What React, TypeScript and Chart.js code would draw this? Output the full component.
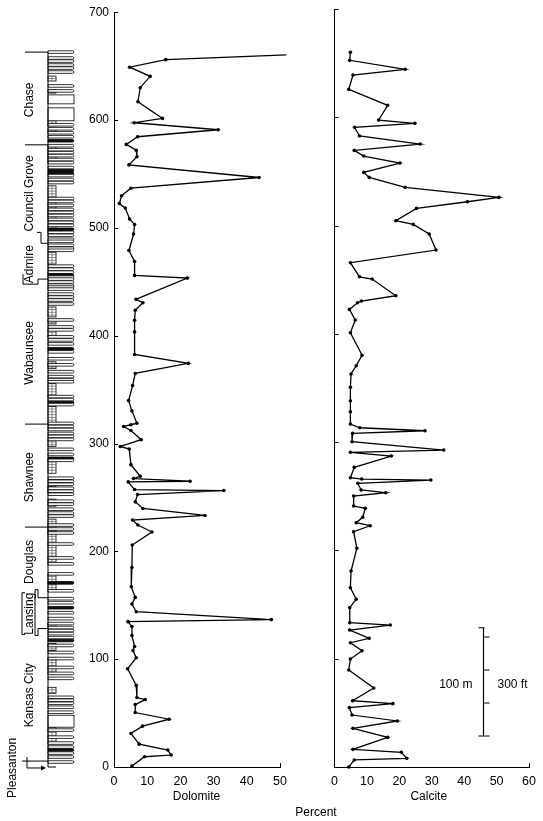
import { useEffect, useRef } from "react";
import { Chart, registerables } from "chart.js";

Chart.register(...registerables);

const FONT = '"Liberation Sans", Arial, sans-serif';

// ---- axes ----
const depthTicks = [0, 100, 200, 300, 400, 500, 600, 700];
const dolomiteMax = 50;
const calciteMax = 60;

// ---- Dolomite profile (depth m, percent) ----
const dolomiteDepth = [
  660.5, 656, 649, 640.5, 630, 617, 601.5, 597.5, 591, 584.5, 577.4, 572, 566, 558.4, 546.7, 536.8,
  529.8, 522.6, 518.3, 508.2, 503, 494.3, 479, 468.8, 455.9, 453.4, 433.7, 430.6, 423.5, 414.3,
  403.5, 382.6, 374.3, 365, 353.7, 339.8, 330.3, 318.8, 317.4, 315.8, 312.1, 303.5, 297.3, 294.8,
  280.4, 269.6, 267.5, 265, 264.4, 257.3, 256.4, 252.7, 245.9, 239.8, 233.3, 229, 224.4, 217.9,
  205.9, 185, 167.1, 157.3, 151.1, 144, 136.7, 134.8, 130.2, 121.9, 111.7, 108, 101.3, 91.1,
  75.7, 64.4, 62.5, 57.9, 50.5, 44.3, 37.9, 31.1, 21.2, 15.7, 11.1, 9.5, 0.9,
];
const dolomitePct = [
  51.9, 15.6, 4.7, 10.9, 7.9, 7.2, 14.6, 6.1, 31.4, 7.1, 3.7, 6.7, 6.9, 4.5, 43.7, 5.1,
  2.3, 1.6, 3.4, 4.7, 6.2, 5.9, 4.5, 6.2, 6.2, 22.1, 6.6, 8.7, 6.4, 6.2,
  6.2, 6.2, 22.4, 6.4, 5.6, 4.4, 5.4, 6.9, 5.1, 2.9, 5.1, 8.2, 1.9, 4.6,
  5.1, 7.9, 5.9, 22.9, 4.3, 6.2, 33.1, 7.1, 6.4, 8.7, 27.4, 5.6, 7.2, 11.4,
  5.5, 5.4, 5.2, 6.4, 5.4, 6.7, 47.4, 4.2, 5.4, 5.4, 6.2, 5.7, 6.7, 4.1,
  6.7, 6.9, 9.4, 6.4, 6.4, 16.6, 8.6, 5.1, 7.6, 16.2, 17.2, 9.2, 5.4,
];

// ---- Calcite profile (depth m, percent) ----
const calciteDepth = [
  660, 652.6, 644.3, 639, 625.8, 611, 597.4, 594.4, 590.7, 582.7, 575.3, 569.4, 564.2, 557.7,
  549.1, 544.5, 535.3, 526, 522, 515.9, 504.5, 501.1, 492.2, 477.4, 465.7, 452.7, 450.6, 435.2,
  430.3, 428.7, 422.6, 412.8, 401, 380.2, 370.6, 362.9, 350.6, 338.2, 328.1, 316.7, 313.3, 310.5,
  308.1, 300.4, 292.7, 290.6, 287.2, 276.7, 267.1, 265.9, 265, 262, 255.8, 253.3, 250.2, 241,
  238.9, 230.6, 225.6, 222.8, 217.3, 202, 181, 165.6, 154.9, 147.1, 133.3, 131.1, 126.5, 118.8,
  114.8, 107.4, 99.7, 89.6, 72.9, 61.2, 58.5, 54.8, 48, 42.5, 35.7, 27.4, 16.3, 13.6, 8, 6.5, 0,
];
const calcitePct = [
  4.9, 4.7, 21.8, 5.7, 4.4, 16.4, 13.6, 24.8, 6.2, 7.7, 26.4, 6.1, 9.0, 20.2,
  9.0, 10.7, 21.8, 50.7, 41.0, 25.3, 18.9, 24.3, 29.2, 31.3, 4.9, 7.7, 11.6, 18.9,
  8.3, 7.1, 4.6, 6.4, 4.9, 8.5, 6.7, 5.1, 4.9, 4.9, 4.9, 4.9, 7.8, 27.9,
  5.6, 5.4, 33.7, 4.9, 17.5, 6.1, 4.9, 8.4, 29.7, 7.2, 8.2, 15.8, 5.9, 5.9,
  9.5, 8.7, 6.7, 11.0, 5.9, 6.9, 5.1, 4.9, 6.7, 4.7, 4.7, 17.2, 4.7, 10.7,
  4.9, 8.5, 4.9, 4.4, 12.1, 5.6, 18.0, 4.6, 5.4, 19.4, 5.7, 16.4, 5.7, 20.6, 22.3, 6.1, 4.4,
];

// ---- Stratigraphic column (depths in m) ----
const columnTop = 663;
const bandDepths = [
  663, 657.5, 654.7, 651, 648.2, 644.5, 631.6, 627, 595.6, 591.9, 588.2, 584.5, 580.8, 576.2,
  572.5, 569.7, 567, 563.3, 560.5, 555.9, 553.1, 550.3, 548.5, 544.8, 542, 527.2, 524.5, 520.8,
  517.1, 514.3, 511.5, 507.8, 505.1, 502.3, 498.6, 495.8, 493.1, 489.4, 487.5, 483.8, 481.1, 479.2,
  464.5, 461.7, 458.9, 456.2, 454.3, 452.5, 449.7, 446.9, 445.1, 443.2, 438.6, 435.8, 433.1, 429.4,
  414.6, 408.1, 405.4, 398.9, 396.1, 392.4, 387.8, 385, 378.6, 373, 366.6, 362, 359.2, 357.3,
  343.5, 340.7, 338, 336.1, 318.6, 315.8, 313, 309.3, 306.6, 303.8, 294.6, 289.9, 286.2, 284.4,
  267.8, 265, 262.2, 258.5, 255.8, 253, 246.5, 243.8, 239.1, 235.5, 232.7, 224.4, 220.7, 217,
  206.8, 193.9, 188.4, 179.1, 170.8, 163.4, 156.1, 152.4, 147.7, 143.1, 137.6, 133, 129.3, 126.5,
  123.7, 120, 117.3, 112.7, 106.2, 100.6, 92.3, 86.8, 82.2, 64.6, 61.9, 59.1, 55.4, 50.8,
  34.2, 27.7, 22.2, 18.5, 15.7, 12.9, 9.2, 4.6,
];
const darkBands = [580.8, 553.1, 550.3, 498.6, 456.2, 387.8, 338, 286.2, 170.8, 147.7, 117.3, 15.7];
const blockTops = [623.3, 611.3, 48.0];
const blockBases = [615, 599.3, 36.9];
const limeTops = [
  640.8, 628, 599.3, 591, 576, 539, 523.5, 502, 477.4, 458.9, 426.6, 414.6, 405.4, 375.8,
  355.5, 334.3, 303.8, 285.3, 260.4, 248.4, 229.9, 218.8, 179, 133, 114.5, 101.6, 73.9, 36.9,
];
const limeBases = [
  636.2, 625, 594.7, 588, 560.5, 528, 507.8, 495.8, 466.3, 456.2, 417.4, 410.9, 398.9, 369.4,
  343.5, 318.6, 297.3, 272.4, 253.9, 241.9, 217, 188.4, 163.4, 129.3, 108, 86.8, 68.3, 22.2,
];

// ---- Formations ----
const formationNames = [
  "Chase", "Council Grove", "Admire", "Wabaunsee", "Shawnee", "Douglas", "Lansing", "Kansas City", "Pleasanton",
];
const formationLabelDepth = [618.7, 531.9, 466.3, 384.1, 268.7, 190.2, 142.2, 66.5, 1];
const straightBoundaries = [663, 577, 318, 222.5];

// ---- scale bar ----
const scaleBarBase = 28.6;
const scaleBarMeters = 100;
const scaleBarFeetTicks = [0, 100, 200, 300];
const metersPerFoot = 0.3048;
const scaleBarX = 45.7;

function seg(ctx: CanvasRenderingContext2D, x1: number, y1: number, x2: number, y2: number) {
  ctx.beginPath();
  ctx.moveTo(x1, y1);
  ctx.lineTo(x2, y2);
  ctx.stroke();
}
function poly(ctx: CanvasRenderingContext2D, pts: number[][]) {
  ctx.beginPath();
  ctx.moveTo(pts[0][0], pts[0][1]);
  for (let i = 1; i < pts.length; i++) ctx.lineTo(pts[i][0], pts[i][1]);
  ctx.stroke();
}

function axisDeco(xMax: number) {
  return {
    id: "axisDeco",
    afterDraw(chart: any) {
      const { ctx, chartArea, scales } = chart;
      const { left, bottom } = chartArea;
      const y = scales.y;
      const x = scales.x;
      ctx.save();
      ctx.strokeStyle = "#000";
      ctx.lineWidth = 1;
      depthTicks.forEach((v) => {
        if (v === 0) return;
        const py = Math.round(y.getPixelForValue(v)) + 0.5;
        seg(ctx, left, py, left + 4, py);
      });
      const px = Math.round(x.getPixelForValue(xMax)) + 0.5;
      seg(ctx, px, bottom, px, bottom - 4);
      ctx.restore();
    },
  };
}

const columnPlugin = {
  id: "column",
  afterDraw(chart: any) {
    const { ctx, scales } = chart;
    const y = scales.y;
    const Y = (d: number) => y.getPixelForValue(d);
    const L = 48;
    const NR = 56;
    const R = 74;
    ctx.save();
    ctx.strokeStyle = "#000";
    ctx.lineWidth = 0.8;
    // limestone intervals (narrow patterned column)
    limeTops.forEach((t, i) => {
      const y1 = Y(t);
      const y2 = Y(limeBases[i]);
      ctx.fillStyle = "#fff";
      ctx.fillRect(L, y1, NR - L, y2 - y1);
      ctx.strokeRect(L, y1, NR - L, y2 - y1);
      ctx.lineWidth = 0.6;
      ctx.strokeStyle = "#444";
      for (let yy = y1 + 2.5; yy < y2 - 0.5; yy += 2.8) seg(ctx, L, yy, NR, yy);
      seg(ctx, (L + NR) / 2, y1, (L + NR) / 2, y2);
      ctx.lineWidth = 0.8;
      ctx.strokeStyle = "#000";
    });
    // blocks
    blockTops.forEach((t, i) => {
      const y1 = Y(t);
      const y2 = Y(blockBases[i]);
      ctx.fillStyle = "#fff";
      ctx.fillRect(L, y1, R - L, y2 - y1);
      ctx.strokeRect(L, y1, R - L, y2 - y1);
    });
    // bands
    bandDepths.forEach((d) => {
      const yc = Y(d);
      const h = 1.3;
      ctx.beginPath();
      ctx.moveTo(L, yc - h);
      ctx.lineTo(R - 1.5, yc - h);
      ctx.arc(R - 1.5, yc, h, -Math.PI / 2, Math.PI / 2);
      ctx.lineTo(L, yc + h);
      ctx.closePath();
      ctx.fillStyle = darkBands.includes(d) ? "#111" : "#fff";
      ctx.fill();
      ctx.stroke();
    });
    // column left edge
    ctx.lineWidth = 1;
    seg(ctx, L, Y(columnTop), L, Y(0));
    seg(ctx, L, Y(0), NR, Y(0));

    // formation boundaries
    straightBoundaries.forEach((d) => {
      const py = Y(d);
      seg(ctx, 25, py, L, py);
    });
    // Admire top step
    poly(ctx, [[37, Y(495.8)], [41, Y(495.8)], [41, Y(485.7)], [L, Y(485.7)]]);
    // Admire base step
    poly(ctx, [[23, Y(457)], [23, Y(447.8)], [38, Y(447.8)], [38, Y(452.5)], [L, Y(452.5)]]);
    // Douglas base / Lansing
    poly(ctx, [[35, Y(164.4)], [38, Y(164.4)], [38, Y(157)], [L, Y(157)]]);
    seg(ctx, 35, Y(164.4), 35, Y(121.9));
    poly(ctx, [[35, Y(121.9)], [38, Y(121.9)], [38, Y(128.4)], [L, Y(128.4)]]);
    poly(ctx, [[25, Y(161.6)], [22, Y(161.6)], [22, Y(122.8)], [25, Y(122.8)]]);
    // Kansas City base / Pleasanton arrow
    seg(ctx, 22, Y(5.5), L, Y(5.5));
    seg(ctx, 27, Y(9.2), 27, Y(-0.9));
    seg(ctx, 27, Y(-0.9), 44, Y(-0.9));
    ctx.beginPath();
    ctx.moveTo(46, Y(-0.9));
    ctx.lineTo(41, Y(-0.9) - 2.5);
    ctx.lineTo(41, Y(-0.9) + 2.5);
    ctx.closePath();
    ctx.fillStyle = "#000";
    ctx.fill();

    // formation labels
    ctx.fillStyle = "#000";
    ctx.font = `12px ${FONT}`;
    ctx.textAlign = "center";
    ctx.textBaseline = "middle";
    formationNames.forEach((n, i) => {
      const last = i === formationNames.length - 1;
      const cx = last ? 13 : 29.5;
      ctx.save();
      ctx.translate(cx, Y(formationLabelDepth[i]));
      ctx.rotate(-Math.PI / 2);
      ctx.fillText(n, last ? -2 : 0, 0);
      ctx.restore();
    });
    // x title
    const xs = scales.x;
    ctx.fillText("Dolomite", (xs.left + xs.right) / 2 - 0.5, 797);
    ctx.restore();
  },
};

const calcitePlugin = {
  id: "calciteExtras",
  afterDraw(chart: any) {
    const { ctx, scales } = chart;
    const y = scales.y;
    const x = scales.x;
    const Y = (d: number) => y.getPixelForValue(d);
    ctx.save();
    ctx.strokeStyle = "#000";
    ctx.lineWidth = 1.2;
    const bx = Math.round(x.getPixelForValue(scaleBarX)) + 0.5;
    const yTop = Y(scaleBarBase + scaleBarMeters);
    const yBot = Y(scaleBarBase);
    seg(ctx, bx, yTop, bx, yBot);
    ctx.lineWidth = 1;
    seg(ctx, bx - 5, yTop, bx + 1, yTop);
    scaleBarFeetTicks.forEach((f) => {
      const py = Y(scaleBarBase + f * metersPerFoot);
      seg(ctx, f === 0 ? bx - 5 : bx, py, bx + 6, py);
    });
    ctx.fillStyle = "#000";
    ctx.font = `12px ${FONT}`;
    ctx.textBaseline = "middle";
    const ym = Y(scaleBarBase + 47);
    ctx.textAlign = "right";
    ctx.fillText("100 m", bx - 11, ym);
    ctx.textAlign = "left";
    ctx.fillText("300 ft", bx + 14, ym);
    ctx.textAlign = "center";
    ctx.fillText("Calcite", (x.left + x.right) / 2 - 3, 797);
    ctx.fillText("Percent", 316, 813);
    ctx.restore();
  },
};

function makeConfig(depth: number[], pct: number[], xMax: number, yWidth: number, padRight: number, showYLabels: boolean, extra: any[]) {
  return {
    type: "line" as const,
    data: {
      datasets: [
        {
          data: depth.map((d, i) => ({ x: pct[i], y: d })),
          borderColor: "#000",
          borderWidth: 1.3,
          pointRadius: 1.8,
          pointBorderWidth: 0,
          pointBackgroundColor: "#000",
          tension: 0,
          clip: false as any,
        },
      ],
    },
    options: {
      animation: false as const,
      responsive: false,
      maintainAspectRatio: false,
      layout: { padding: { left: 0, right: padRight, top: 9, bottom: 0 } },
      plugins: { legend: { display: false }, tooltip: { enabled: false } },
      scales: {
        x: {
          type: "linear" as const,
          min: 0,
          max: xMax,
          grid: { display: false, drawTicks: false },
          border: { display: true, color: "#000", width: 1 },
          ticks: { stepSize: 10, color: "#000", font: { family: FONT, size: 12.5 }, padding: 7, maxRotation: 0 },
          afterFit: (s: any) => {
            s.height = 54;
          },
        },
        y: {
          type: "linear" as const,
          min: 0,
          max: 700,
          grid: { display: false, drawTicks: false },
          border: { display: true, color: "#000", width: 1 },
          ticks: { display: showYLabels, stepSize: 100, color: "#000", font: { family: FONT, size: 12 }, padding: 5 },
          afterFit: (s: any) => {
            s.width = yWidth;
          },
        },
      },
    },
    plugins: extra,
  };
}

export default function App() {
  const ref1 = useRef<HTMLCanvasElement>(null);
  const ref2 = useRef<HTMLCanvasElement>(null);
  useEffect(() => {
    const c1 = new Chart(
      ref1.current as HTMLCanvasElement,
      makeConfig(dolomiteDepth, dolomitePct, dolomiteMax, 114, 543 - 280, true, [axisDeco(dolomiteMax), columnPlugin]) as any
    );
    const c2 = new Chart(
      ref2.current as HTMLCanvasElement,
      makeConfig(calciteDepth, calcitePct, calciteMax, 334.5, 543 - 529.5, false, [axisDeco(calciteMax), calcitePlugin]) as any
    );
    return () => {
      c1.destroy();
      c2.destroy();
    };
  }, []);
  return (
    <div style={{ position: "absolute", left: 0, top: 0, width: 543, height: 821, background: "#fff" }}>
      <canvas ref={ref1} width={543} height={821} style={{ position: "absolute", left: 0, top: 0 }} />
      <canvas ref={ref2} width={543} height={821} style={{ position: "absolute", left: 0, top: 0 }} />
    </div>
  );
}
